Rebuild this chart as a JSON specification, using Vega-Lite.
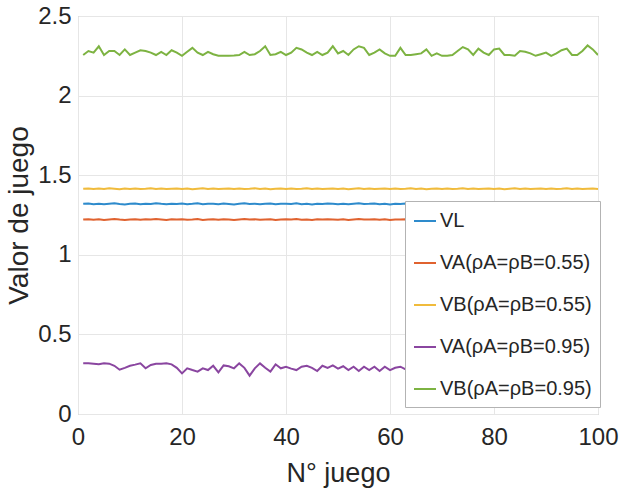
{
"$schema": "https://vega.github.io/schema/vega-lite/v6.json",
"width": 520, "height": 398,
"autosize": {"type": "none"},
"padding": {"left": 78, "top": 16, "right": 21, "bottom": 75},
"background": "white",
"config": {"font": "Liberation Sans, Arial, sans-serif", "view": {"stroke": "#b3b3b3", "strokeWidth": 1}},
"data": {"values": [
{"n":1,"L":1.320,"A55":1.221,"B55":1.415,"A95":0.318,"B95":2.255},
{"n":2,"L":1.322,"A55":1.224,"B55":1.417,"A95":0.318,"B95":2.280},
{"n":3,"L":1.318,"A55":1.220,"B55":1.413,"A95":0.315,"B95":2.270},
{"n":4,"L":1.321,"A55":1.223,"B55":1.416,"A95":0.312,"B95":2.310},
{"n":5,"L":1.317,"A55":1.219,"B55":1.414,"A95":0.318,"B95":2.255},
{"n":6,"L":1.320,"A55":1.222,"B55":1.418,"A95":0.316,"B95":2.280},
{"n":7,"L":1.323,"A55":1.225,"B55":1.415,"A95":0.303,"B95":2.280},
{"n":8,"L":1.319,"A55":1.221,"B55":1.412,"A95":0.278,"B95":2.255},
{"n":9,"L":1.316,"A55":1.218,"B55":1.416,"A95":0.290,"B95":2.290},
{"n":10,"L":1.320,"A55":1.222,"B55":1.414,"A95":0.303,"B95":2.255},
{"n":11,"L":1.322,"A55":1.224,"B55":1.417,"A95":0.310,"B95":2.270},
{"n":12,"L":1.318,"A55":1.220,"B55":1.413,"A95":0.318,"B95":2.285},
{"n":13,"L":1.321,"A55":1.223,"B55":1.415,"A95":0.287,"B95":2.280},
{"n":14,"L":1.319,"A55":1.221,"B55":1.418,"A95":0.308,"B95":2.270},
{"n":15,"L":1.324,"A55":1.225,"B55":1.414,"A95":0.315,"B95":2.255},
{"n":16,"L":1.320,"A55":1.222,"B55":1.416,"A95":0.316,"B95":2.275},
{"n":17,"L":1.317,"A55":1.219,"B55":1.413,"A95":0.318,"B95":2.255},
{"n":18,"L":1.321,"A55":1.223,"B55":1.415,"A95":0.312,"B95":2.285},
{"n":19,"L":1.319,"A55":1.221,"B55":1.417,"A95":0.290,"B95":2.270},
{"n":20,"L":1.322,"A55":1.224,"B55":1.414,"A95":0.255,"B95":2.250},
{"n":21,"L":1.318,"A55":1.220,"B55":1.416,"A95":0.287,"B95":2.275},
{"n":22,"L":1.320,"A55":1.222,"B55":1.412,"A95":0.276,"B95":2.300},
{"n":23,"L":1.323,"A55":1.225,"B55":1.415,"A95":0.266,"B95":2.270},
{"n":24,"L":1.317,"A55":1.219,"B55":1.418,"A95":0.287,"B95":2.255},
{"n":25,"L":1.320,"A55":1.222,"B55":1.414,"A95":0.276,"B95":2.275},
{"n":26,"L":1.321,"A55":1.223,"B55":1.416,"A95":0.303,"B95":2.260},
{"n":27,"L":1.318,"A55":1.220,"B55":1.413,"A95":0.262,"B95":2.250},
{"n":28,"L":1.322,"A55":1.224,"B55":1.415,"A95":0.305,"B95":2.250},
{"n":29,"L":1.319,"A55":1.221,"B55":1.417,"A95":0.300,"B95":2.250},
{"n":30,"L":1.316,"A55":1.218,"B55":1.414,"A95":0.287,"B95":2.252},
{"n":31,"L":1.320,"A55":1.222,"B55":1.416,"A95":0.318,"B95":2.255},
{"n":32,"L":1.323,"A55":1.225,"B55":1.413,"A95":0.290,"B95":2.275},
{"n":33,"L":1.319,"A55":1.221,"B55":1.415,"A95":0.241,"B95":2.255},
{"n":34,"L":1.321,"A55":1.223,"B55":1.418,"A95":0.287,"B95":2.260},
{"n":35,"L":1.318,"A55":1.220,"B55":1.414,"A95":0.318,"B95":2.280},
{"n":36,"L":1.320,"A55":1.222,"B55":1.416,"A95":0.290,"B95":2.310},
{"n":37,"L":1.322,"A55":1.224,"B55":1.412,"A95":0.266,"B95":2.255},
{"n":38,"L":1.317,"A55":1.219,"B55":1.415,"A95":0.312,"B95":2.260},
{"n":39,"L":1.320,"A55":1.222,"B55":1.417,"A95":0.287,"B95":2.275},
{"n":40,"L":1.321,"A55":1.223,"B55":1.414,"A95":0.297,"B95":2.255},
{"n":41,"L":1.319,"A55":1.221,"B55":1.416,"A95":0.285,"B95":2.270},
{"n":42,"L":1.323,"A55":1.225,"B55":1.413,"A95":0.276,"B95":2.300},
{"n":43,"L":1.318,"A55":1.220,"B55":1.415,"A95":0.297,"B95":2.290},
{"n":44,"L":1.320,"A55":1.222,"B55":1.418,"A95":0.303,"B95":2.270},
{"n":45,"L":1.316,"A55":1.218,"B55":1.414,"A95":0.290,"B95":2.255},
{"n":46,"L":1.321,"A55":1.223,"B55":1.416,"A95":0.270,"B95":2.275},
{"n":47,"L":1.319,"A55":1.221,"B55":1.413,"A95":0.303,"B95":2.255},
{"n":48,"L":1.322,"A55":1.224,"B55":1.415,"A95":0.290,"B95":2.270},
{"n":49,"L":1.320,"A55":1.222,"B55":1.417,"A95":0.305,"B95":2.310},
{"n":50,"L":1.318,"A55":1.220,"B55":1.414,"A95":0.285,"B95":2.265},
{"n":51,"L":1.321,"A55":1.223,"B55":1.416,"A95":0.300,"B95":2.280},
{"n":52,"L":1.317,"A55":1.219,"B55":1.412,"A95":0.276,"B95":2.255},
{"n":53,"L":1.320,"A55":1.222,"B55":1.415,"A95":0.297,"B95":2.290},
{"n":54,"L":1.323,"A55":1.225,"B55":1.418,"A95":0.270,"B95":2.310},
{"n":55,"L":1.319,"A55":1.221,"B55":1.414,"A95":0.297,"B95":2.300},
{"n":56,"L":1.320,"A55":1.222,"B55":1.416,"A95":0.276,"B95":2.255},
{"n":57,"L":1.322,"A55":1.224,"B55":1.413,"A95":0.297,"B95":2.270},
{"n":58,"L":1.318,"A55":1.220,"B55":1.415,"A95":0.270,"B95":2.290},
{"n":59,"L":1.321,"A55":1.223,"B55":1.417,"A95":0.297,"B95":2.265},
{"n":60,"L":1.316,"A55":1.218,"B55":1.414,"A95":0.276,"B95":2.250},
{"n":61,"L":1.320,"A55":1.222,"B55":1.416,"A95":0.290,"B95":2.250},
{"n":62,"L":1.319,"A55":1.221,"B55":1.413,"A95":0.297,"B95":2.300},
{"n":63,"L":1.322,"A55":1.224,"B55":1.415,"A95":0.280,"B95":2.255},
{"n":64,"L":1.318,"A55":1.220,"B55":1.418,"A95":0.300,"B95":2.255},
{"n":65,"L":1.321,"A55":1.223,"B55":1.414,"A95":0.270,"B95":2.260},
{"n":66,"L":1.320,"A55":1.222,"B55":1.416,"A95":0.310,"B95":2.265},
{"n":67,"L":1.317,"A55":1.219,"B55":1.412,"A95":0.285,"B95":2.290},
{"n":68,"L":1.322,"A55":1.224,"B55":1.415,"A95":0.260,"B95":2.250},
{"n":69,"L":1.319,"A55":1.221,"B55":1.417,"A95":0.300,"B95":2.265},
{"n":70,"L":1.320,"A55":1.222,"B55":1.414,"A95":0.290,"B95":2.250},
{"n":71,"L":1.323,"A55":1.225,"B55":1.416,"A95":0.315,"B95":2.250},
{"n":72,"L":1.318,"A55":1.220,"B55":1.413,"A95":0.275,"B95":2.255},
{"n":73,"L":1.320,"A55":1.222,"B55":1.415,"A95":0.300,"B95":2.280},
{"n":74,"L":1.321,"A55":1.223,"B55":1.418,"A95":0.280,"B95":2.305},
{"n":75,"L":1.317,"A55":1.219,"B55":1.414,"A95":0.310,"B95":2.290},
{"n":76,"L":1.320,"A55":1.222,"B55":1.416,"A95":0.265,"B95":2.255},
{"n":77,"L":1.322,"A55":1.224,"B55":1.413,"A95":0.295,"B95":2.295},
{"n":78,"L":1.319,"A55":1.221,"B55":1.415,"A95":0.300,"B95":2.270},
{"n":79,"L":1.318,"A55":1.220,"B55":1.417,"A95":0.280,"B95":2.255},
{"n":80,"L":1.321,"A55":1.223,"B55":1.414,"A95":0.310,"B95":2.290},
{"n":81,"L":1.320,"A55":1.222,"B55":1.416,"A95":0.270,"B95":2.295},
{"n":82,"L":1.316,"A55":1.218,"B55":1.412,"A95":0.290,"B95":2.255},
{"n":83,"L":1.322,"A55":1.224,"B55":1.415,"A95":0.305,"B95":2.255},
{"n":84,"L":1.319,"A55":1.221,"B55":1.418,"A95":0.260,"B95":2.250},
{"n":85,"L":1.321,"A55":1.223,"B55":1.414,"A95":0.295,"B95":2.280},
{"n":86,"L":1.318,"A55":1.220,"B55":1.416,"A95":0.310,"B95":2.275},
{"n":87,"L":1.320,"A55":1.222,"B55":1.413,"A95":0.285,"B95":2.265},
{"n":88,"L":1.323,"A55":1.225,"B55":1.415,"A95":0.275,"B95":2.250},
{"n":89,"L":1.319,"A55":1.221,"B55":1.417,"A95":0.300,"B95":2.260},
{"n":90,"L":1.317,"A55":1.219,"B55":1.414,"A95":0.315,"B95":2.270},
{"n":91,"L":1.321,"A55":1.223,"B55":1.416,"A95":0.280,"B95":2.250},
{"n":92,"L":1.320,"A55":1.222,"B55":1.413,"A95":0.290,"B95":2.265},
{"n":93,"L":1.318,"A55":1.220,"B55":1.415,"A95":0.270,"B95":2.285},
{"n":94,"L":1.322,"A55":1.224,"B55":1.418,"A95":0.305,"B95":2.295},
{"n":95,"L":1.319,"A55":1.221,"B55":1.414,"A95":0.290,"B95":2.255},
{"n":96,"L":1.320,"A55":1.222,"B55":1.416,"A95":0.280,"B95":2.255},
{"n":97,"L":1.317,"A55":1.219,"B55":1.413,"A95":0.300,"B95":2.280},
{"n":98,"L":1.321,"A55":1.223,"B55":1.415,"A95":0.285,"B95":2.315},
{"n":99,"L":1.319,"A55":1.221,"B55":1.417,"A95":0.310,"B95":2.290},
{"n":100,"L":1.320,"A55":1.222,"B55":1.414,"A95":0.297,"B95":2.255}
]},
"transform": [{"fold": ["L", "A55", "B55", "A95", "B95"], "as": ["serie", "v"]}],
"mark": {"type": "line", "strokeWidth": 2, "clip": true},
"encoding": {
  "x": {"field": "n", "type": "quantitative",
    "scale": {"domain": [0, 100], "nice": false},
    "axis": {"values": [0, 20, 40, 60, 80, 100], "title": "N° juego", "labelFontSize": 24, "titleFontSize": 27, "labelColor": "#262626", "titleColor": "#262626", "titleFontWeight": "normal", "grid": true, "gridColor": "#e6e6e6", "domain": false, "ticks": false, "labelPadding": 11, "titlePadding": 11, "labelFlush": false, "labelOverlap": false}},
  "y": {"field": "v", "type": "quantitative",
    "scale": {"domain": [0, 2.5], "nice": false, "zero": false},
    "axis": {"values": [0, 0.5, 1, 1.5, 2, 2.5], "format": "~g", "title": "Valor de juego", "labelFontSize": 24, "titleFontSize": 28, "labelColor": "#262626", "titleColor": "#262626", "titleFontWeight": "normal", "grid": true, "gridColor": "#e6e6e6", "domain": false, "ticks": false, "labelPadding": 7, "titlePadding": 4, "labelFlush": false, "labelOverlap": false}},
  "color": {"field": "serie", "type": "nominal",
    "scale": {"domain": ["L", "A55", "B55", "A95", "B95"], "range": ["#2e8bcc", "#e0622f", "#f0bb3c", "#8a46a0", "#7db342"]},
    "legend": {"orient": "none", "legendX": 327, "legendY": 185, "title": null, "symbolType": "stroke", "symbolSize": 484, "symbolStrokeWidth": 2, "labelFontSize": 20, "labelLimit": 0, "labelColor": "#262626", "fillColor": "white", "strokeColor": "#b3b3b3", "padding": 8, "rowPadding": 20, "labelOffset": 3,
      "labelExpr": "datum.value == 'L' ? 'VL' : datum.value == 'A55' ? 'VA(ρA=ρB=0.55)' : datum.value == 'B55' ? 'VB(ρA=ρB=0.55)' : datum.value == 'A95' ? 'VA(ρA=ρB=0.95)' : 'VB(ρA=ρB=0.95)'"}}
}
}
